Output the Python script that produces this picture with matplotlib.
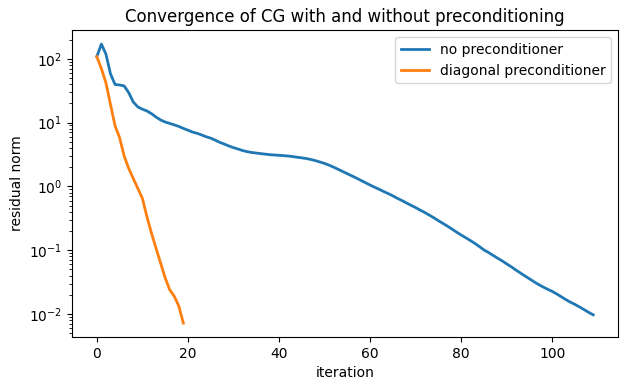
import matplotlib
matplotlib.use("Agg")
import matplotlib.pyplot as plt

iterations_no_prec = list(range(110))
residual_no_prec = [
    108, 170, 118, 58, 39.5, 38.8, 37.5, 29.5, 21.0, 17.6,
    16.2, 15.2, 13.8, 12.2, 11.0, 10.2, 9.7, 9.2, 8.7, 8.1,
    7.6, 7.1, 6.8, 6.4, 6.0, 5.7, 5.3, 4.9, 4.6, 4.3,
    4.05, 3.85, 3.65, 3.5, 3.4, 3.33, 3.26, 3.2, 3.14, 3.1,
    3.07, 3.03, 2.99, 2.93, 2.86, 2.8, 2.73, 2.64, 2.53, 2.41,
    2.29, 2.15, 2.0, 1.85, 1.71, 1.58, 1.46, 1.35, 1.24, 1.14,
    1.05, 0.97, 0.9, 0.83, 0.77, 0.71, 0.65, 0.6, 0.55, 0.505,
    0.465, 0.425, 0.39, 0.355, 0.322, 0.29, 0.263, 0.238, 0.214, 0.192,
    0.173, 0.157, 0.142, 0.128, 0.114, 0.101, 0.092, 0.083, 0.075, 0.068,
    0.061, 0.055, 0.049, 0.044, 0.0395, 0.0356, 0.032, 0.029, 0.0265, 0.0244,
    0.0226, 0.0206, 0.0186, 0.0168, 0.0153, 0.0141, 0.0129, 0.0117, 0.0106, 0.0097,
]

iterations_diag = list(range(20))
residual_diag = [
    108, 70, 42, 19.2, 8.9, 5.8, 3.0, 1.91, 1.33, 0.93,
    0.65, 0.335, 0.185, 0.107, 0.063, 0.037, 0.024, 0.019, 0.0133, 0.0072,
]

fig = plt.figure(figsize=(6.24, 3.91), dpi=100)
ax = fig.add_axes([0.1154, 0.138, 0.875, 0.785])
ax.semilogy(iterations_no_prec, residual_no_prec, lw=2, label="no preconditioner")
ax.semilogy(iterations_diag, residual_diag, lw=2, label="diagonal preconditioner")
ax.set_xlabel("iteration")
ax.set_ylabel("residual norm")
ax.set_title("Convergence of CG with and without preconditioning")
ax.legend(loc="upper right")
fig.savefig("out.png", dpi=100)
